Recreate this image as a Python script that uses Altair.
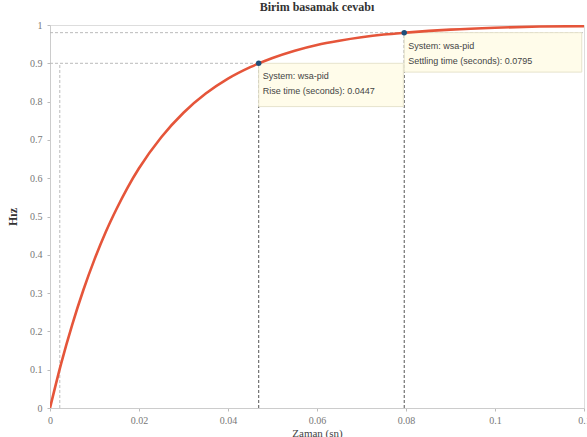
import altair as alt
import pandas as pd

# Step response samples (time in s, speed)
t_vals = [0.0, 0.0025, 0.005, 0.0075, 0.01, 0.0125, 0.015, 0.0175, 0.02, 0.025,
          0.03, 0.035, 0.04, 0.045, 0.05, 0.055, 0.06, 0.065, 0.07, 0.075,
          0.08, 0.09, 0.1, 0.11, 0.12]
y_vals = [0.0, 0.116, 0.218, 0.308, 0.388, 0.459, 0.521, 0.577, 0.626, 0.707,
          0.771, 0.821, 0.860, 0.890, 0.914, 0.933, 0.948, 0.959, 0.968, 0.975,
          0.980, 0.988, 0.993, 0.996, 0.997]

# Characteristic points
rise_start = 0.0022
rise_end = 0.0469
rise_time = 0.0447
settle_time = 0.0795
settle_x = 0.0796
rise_level = 0.9
settle_level = 0.98

x_ticks = [0, 0.02, 0.04, 0.06, 0.08, 0.1, 0.12]
y_ticks = [0, 0.1, 0.2, 0.3, 0.4, 0.5, 0.6, 0.7, 0.8, 0.9, 1]

curve = pd.DataFrame({"t": t_vals, "y": y_vals})

xs = alt.Scale(domain=[0, 0.12], nice=False, zero=False)
ys = alt.Scale(domain=[0, 1], nice=False)

x_axis = alt.Axis(values=x_ticks, format="~g", title="Zaman (sn)", grid=False, tickSize=3,
                  labelFont="Liberation Serif", labelFontSize=10, labelColor="#777",
                  titleFont="Liberation Serif", titleFontSize=11, titleColor="#444",
                  titleFontWeight="normal", domainColor="#ccc", tickColor="#bbb",
                  labelPadding=4, titlePadding=2, labelFlush=False, labelOverlap=False)
y_axis = alt.Axis(values=y_ticks, format="~g", title="Hız", grid=False, tickSize=3,
                  labelFont="Liberation Serif", labelFontSize=10, labelColor="#777",
                  titleFont="Liberation Serif", titleFontSize=12, titleColor="#333",
                  titleFontWeight="bold", domainColor="#ccc", tickColor="#bbb",
                  labelPadding=5, titlePadding=10, labelOverlap=False)


def X(field):
    return alt.X(f"{field}:Q", scale=xs, axis=x_axis)


def Y(field):
    return alt.Y(f"{field}:Q", scale=ys, axis=y_axis)


# Reference lines for rise and settling time
light = pd.DataFrame({
    "x": [0, rise_start, 0],
    "x2": [rise_end, rise_start, 0.12],
    "y": [rise_level, 0, settle_level],
    "y2": [rise_level, rise_level, settle_level],
})
dark = pd.DataFrame({
    "x": [rise_end, settle_x],
    "x2": [rise_end, settle_x],
    "y": [0, 0],
    "y2": [rise_level, settle_level],
})

light_rules = alt.Chart(light).mark_rule(color="#bbb", strokeDash=[3, 2], strokeWidth=1).encode(
    x=X("x"), x2="x2:Q", y=Y("y"), y2="y2:Q")
dark_rules = alt.Chart(dark).mark_rule(color="#555", strokeDash=[3, 2], strokeWidth=1).encode(
    x=X("x"), x2="x2:Q", y=Y("y"), y2="y2:Q")

line = alt.Chart(curve).mark_line(color="#e5553a", strokeWidth=2.6, clip=True,
                                  interpolate="monotone").encode(x=X("t"), y=Y("y"))

# Data tips
tips = pd.DataFrame({
    "x": [rise_end, settle_x],
    "y": [rise_level, settle_level],
    "bx2": [0.0794, 0.1195],
    "by2": [0.787, 0.877],
    "line1": ["System: wsa-pid", "System: wsa-pid"],
    "line2": [f"Rise time (seconds): {rise_time}", f"Settling time (seconds): {settle_time}"],
})

boxes = alt.Chart(tips).mark_rect(fill="#fffcea", stroke="#e6e3cc", strokeWidth=1).encode(
    x=X("x"), x2="bx2:Q", y=Y("y"), y2="by2:Q")
text1 = alt.Chart(tips).mark_text(align="left", baseline="middle", dx=4, dy=13,
                                  font="Liberation Sans", fontSize=9, color="#444").encode(
    x=X("x"), y=Y("y"), text="line1:N")
text2 = alt.Chart(tips).mark_text(align="left", baseline="middle", dx=4, dy=28,
                                  font="Liberation Sans", fontSize=9, color="#444").encode(
    x=X("x"), y=Y("y"), text="line2:N")
points = alt.Chart(tips).mark_point(filled=True, color="#1f4f7a", size=30, opacity=1).encode(
    x=X("x"), y=Y("y"))

chart = alt.layer(light_rules, dark_rules, boxes, line, text1, text2, points).properties(
    width=534, height=383,
    title=alt.TitleParams("Birim basamak cevabı", font="Liberation Serif", fontSize=12,
                          fontWeight="bold", color="#333", offset=6),
    autosize=alt.AutoSizeParams(type="none"),
    padding={"left": 50, "top": 25, "right": 3, "bottom": 29},
).configure_view(stroke="#ccc", strokeWidth=1).configure(background="white")

chart.save("out.html", embed_options={"renderer": "svg", "actions": False})
